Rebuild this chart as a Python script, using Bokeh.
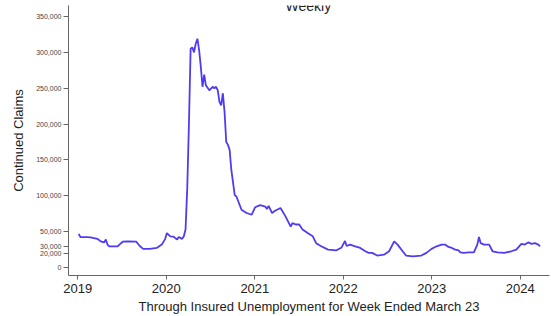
import pandas as pd
from bokeh.plotting import figure
from bokeh.models import (Range1d, FixedTicker, NumeralTickFormatter,
                          DatetimeTickFormatter, Label, ColumnDataSource)
from bokeh.embed import file_html
from bokeh.resources import INLINE

# ---- data ----
dates = [
    "2019-01-05", "2019-01-12", "2019-02-09", "2019-02-23", "2019-03-09", "2019-03-23",
    "2019-04-06", "2019-04-20", "2019-04-27", "2019-05-04", "2019-05-11", "2019-06-15",
    "2019-06-22", "2019-07-06", "2019-07-27", "2019-08-31", "2019-09-14", "2019-09-28",
    "2019-10-26", "2019-11-23", "2019-12-14", "2019-12-28", "2020-01-04", "2020-01-18",
    "2020-02-01", "2020-02-08", "2020-02-15", "2020-02-22", "2020-03-07", "2020-03-14",
    "2020-03-21", "2020-03-28", "2020-04-04", "2020-04-11", "2020-04-18", "2020-04-25",
    "2020-05-02", "2020-05-09", "2020-05-16", "2020-05-23", "2020-05-30", "2020-06-06",
    "2020-06-13", "2020-06-27", "2020-07-11", "2020-07-18", "2020-07-25", "2020-08-01",
    "2020-08-08", "2020-08-15", "2020-08-22", "2020-08-29", "2020-09-05", "2020-09-12",
    "2020-09-19", "2020-09-26", "2020-10-10", "2020-10-17", "2020-11-07", "2020-11-28",
    "2020-12-19", "2021-01-02", "2021-01-16", "2021-01-23", "2021-02-13", "2021-02-20",
    "2021-02-27", "2021-03-13", "2021-03-27", "2021-04-17", "2021-05-08", "2021-05-29",
    "2021-06-05", "2021-06-19", "2021-07-03", "2021-07-17", "2021-08-07", "2021-08-28",
    "2021-09-11", "2021-10-02", "2021-10-30", "2021-12-04", "2021-12-25", "2022-01-08",
    "2022-01-15", "2022-01-29", "2022-02-19", "2022-03-12", "2022-04-02", "2022-04-16",
    "2022-04-30", "2022-05-21", "2022-06-18", "2022-07-09", "2022-07-30", "2022-08-13",
    "2022-09-03", "2022-09-17", "2022-10-15", "2022-11-19", "2022-12-10", "2022-12-31",
    "2023-01-21", "2023-02-11", "2023-02-25", "2023-03-11", "2023-03-25", "2023-04-08",
    "2023-04-22", "2023-04-29", "2023-05-13", "2023-06-03", "2023-06-24", "2023-07-08",
    "2023-07-15", "2023-07-22", "2023-08-05", "2023-08-26", "2023-09-09", "2023-09-30",
    "2023-10-28", "2023-11-25", "2023-12-16", "2024-01-06", "2024-01-20", "2024-02-03",
    "2024-02-17", "2024-03-02", "2024-03-16", "2024-03-23",
]
claims = [
    47000, 42600, 42500, 42000, 41000, 40000,
    36500, 35000, 39000, 32000, 29600, 29500,
    32000, 36000, 36500, 36000, 30000, 26000,
    26000, 27300, 32000, 40000, 48000, 43500,
    43000, 41000, 39000, 42600, 40000, 43500,
    53000, 110000, 200000, 305000, 307000, 300000,
    312000, 319000, 303000, 280000, 252000, 269000,
    254000, 247000, 252000, 250000, 252000, 247000,
    231000, 226000, 243000, 217000, 175000, 171000,
    164000, 136000, 101000, 99000, 80500, 76000,
    73600, 84000, 86000, 87000, 85000, 81500,
    86000, 76000, 79600, 83000, 71000, 57000,
    62000, 60000, 60000, 53000, 48000, 43500,
    34000, 29600, 25000, 24000, 28000, 37000,
    30000, 32000, 29600, 27300, 22700, 20400,
    20400, 16700, 18000, 22700, 36500, 32000,
    22700, 16700, 15700, 16700, 20400, 26000,
    29600, 32000, 32000, 28700, 27300, 25000,
    24000, 21000, 20400, 21000, 21000, 32000,
    42600, 34000, 32000, 32000, 22700, 21000,
    20400, 22700, 25000, 33000, 32000, 35000,
    33000, 34000, 32000, 29600,
]
year_ticks = ["2019-01-01", "2020-01-01", "2021-01-01", "2022-01-01", "2023-01-01", "2024-01-01"]
y_ticks = [0, 20000, 30000, 50000, 100000, 150000, 200000, 250000, 300000, 350000]
title_text = "Weekly"
x_label = "Through Insured Unemployment for Week Ended March 23"
y_label = "Continued Claims"

src = ColumnDataSource(dict(date=pd.to_datetime(dates), claims=claims))

p = figure(width=551, height=316, x_axis_type="datetime",
           output_backend="svg", toolbar_location=None,
           x_range=Range1d(pd.Timestamp("2018-11-24"), pd.Timestamp("2024-05-01")),
           y_range=Range1d(-11100, 365300),
           min_border_left=68, min_border_right=2, min_border_top=5, min_border_bottom=40)
p.background_fill_color = "white"
p.border_fill_color = "white"
p.outline_line_color = None
p.grid.visible = False

p.line("date", "claims", source=src, line_color="#4f3cf2", line_width=1.8)

# x axis
xa = p.xaxis[0]
xa.ticker = FixedTicker(ticks=[pd.Timestamp(t).value / 1e6 for t in year_ticks])
xa.formatter = DatetimeTickFormatter(years="%Y", months="%Y", days="%Y", hours="%Y",
                                     minutes="%Y", seconds="%Y", milliseconds="%Y",
                                     microseconds="%Y", hourmin="%Y", minsec="%Y")
xa.axis_label = x_label
xa.axis_label_text_font = "Liberation Sans"
xa.axis_label_text_font_size = "13px"
xa.axis_label_text_font_style = "normal"
xa.axis_label_text_color = "#222222"
xa.axis_label_standoff = 3
xa.major_label_text_font = "Liberation Sans"
xa.major_label_text_font_size = "13px"
xa.major_label_text_color = "#222222"
xa.major_label_standoff = 4
xa.major_tick_out = 4
xa.major_tick_in = 0
xa.minor_tick_out = 0
xa.minor_tick_in = 0
xa.axis_line_color = "#666666"
xa.major_tick_line_color = "#666666"

# y axis
ya = p.yaxis[0]
ya.ticker = FixedTicker(ticks=y_ticks)
ya.formatter = NumeralTickFormatter(format="0,0")
ya.axis_label = y_label
ya.axis_label_text_font = "Liberation Sans"
ya.axis_label_text_font_size = "13px"
ya.axis_label_text_font_style = "normal"
ya.axis_label_text_color = "#222222"
ya.axis_label_standoff = 7
ya.major_label_text_font = "Liberation Sans"
ya.major_label_text_font_size = "7px"
ya.major_label_text_color = "#444444"
ya.major_label_standoff = 2
ya.major_tick_out = 5
ya.major_tick_in = 0
ya.minor_tick_out = 0
ya.minor_tick_in = 0
ya.axis_line_color = "#666666"
ya.major_tick_line_color = "#666666"

# title, cut off at the top as in the reference
p.add_layout(Label(x=pd.Timestamp("2021-08-10"), y=365300, text=title_text,
                   text_align="center", text_baseline="alphabetic", y_offset=0,
                   text_font="Liberation Sans", text_font_size="14px",
                   text_color="#222222"))

open("out.html", "w").write(file_html(p, INLINE))
